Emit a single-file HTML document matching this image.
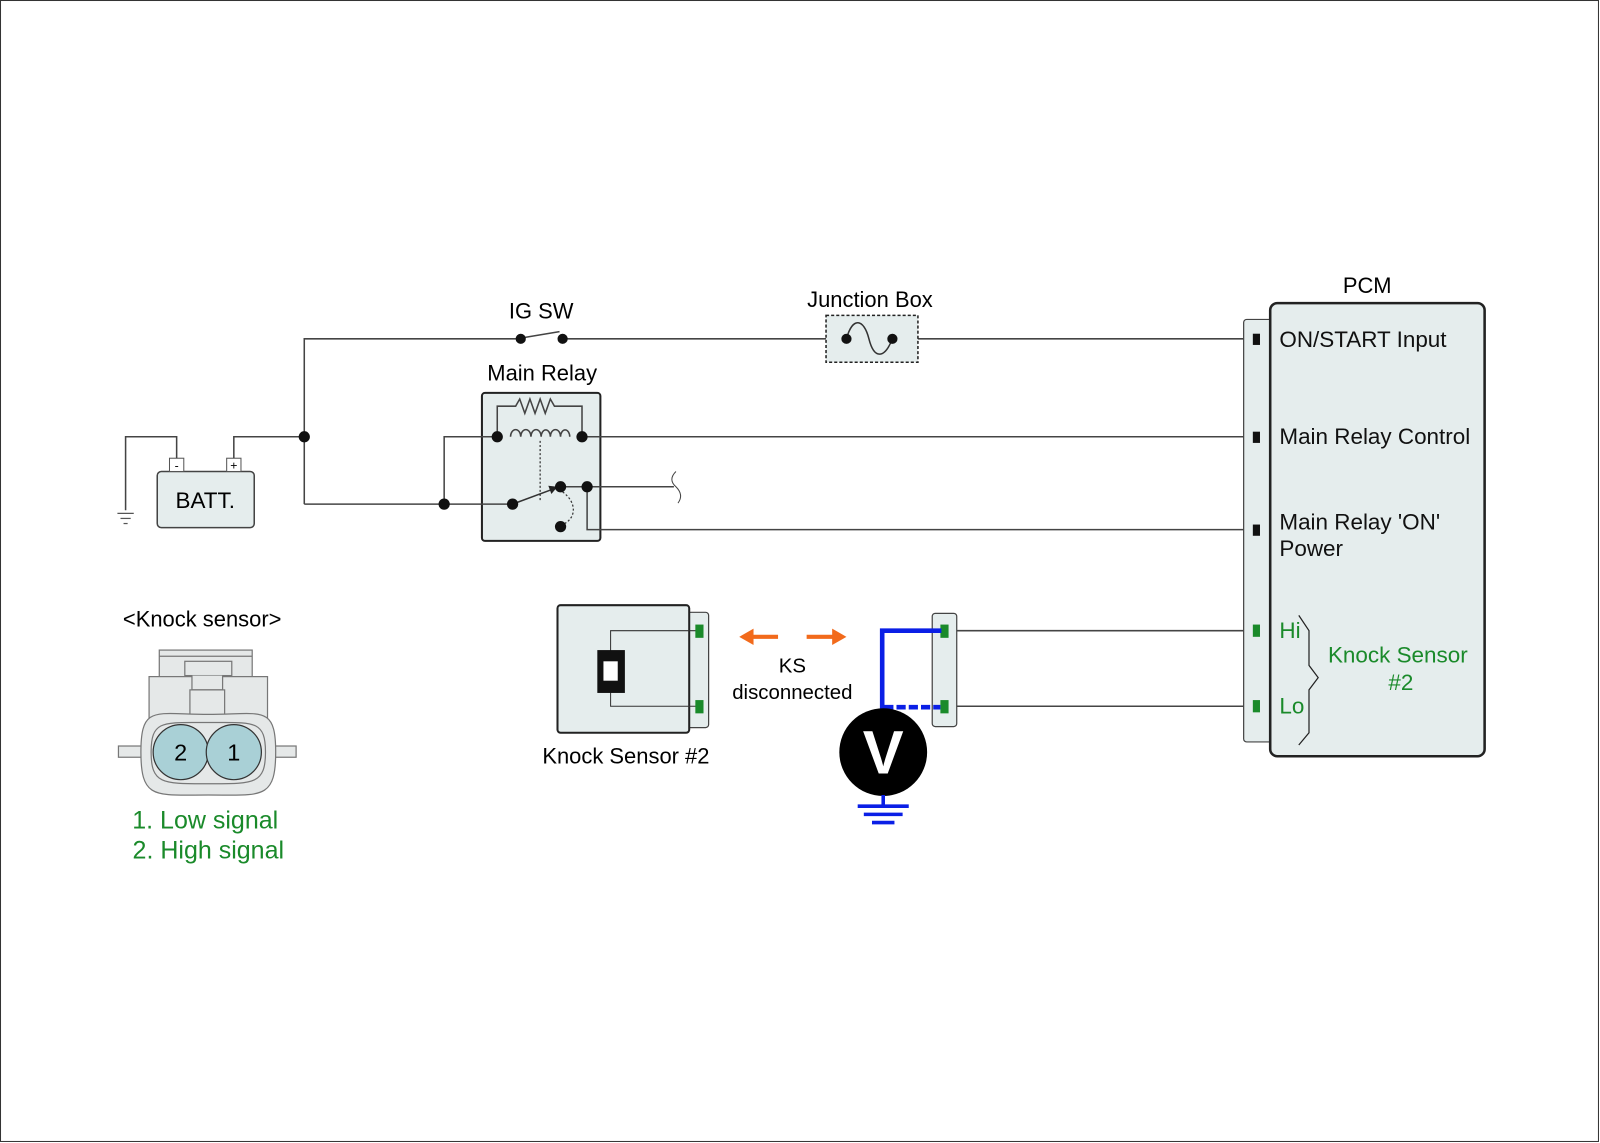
<!DOCTYPE html>
<html><head><meta charset="utf-8"><style>
html,body{margin:0;padding:0;background:#fff}
svg{display:block}
text{font-family:"Liberation Sans",Arial,sans-serif}
</style></head><body>
<svg width="1600" height="1143" viewBox="0 0 1567 1120" preserveAspectRatio="none" xmlns="http://www.w3.org/2000/svg">
<rect x="0.5" y="0.5" width="1565" height="1118" fill="#fff" stroke="#333" stroke-width="1"/>
<!-- battery -->
<rect x="154" y="462" width="95" height="55" rx="4" fill="#e5eded" stroke="#444" stroke-width="1.5"/>
<rect x="166" y="449" width="14" height="13" fill="#fff" stroke="#555"/>
<rect x="222" y="449" width="14" height="13" fill="#fff" stroke="#555"/>
<text x="173" y="460" font-size="12" text-anchor="middle">-</text>
<text x="229" y="460" font-size="12" text-anchor="middle">+</text>
<text x="201" y="498" font-size="22" text-anchor="middle">BATT.</text>
<!-- main relay box -->
<rect x="472" y="385" width="116" height="145" rx="3" fill="#e5eded" stroke="#222" stroke-width="2"/>
<g fill="none" stroke="#444" stroke-width="1.5">
<polyline points="298,494 298,332 510,332"/>
<line x1="512" y1="331" x2="548" y2="325"/>
<line x1="551" y1="332" x2="1230" y2="332"/>
<polyline points="173,449 173,428 123,428 123,500"/>
<polyline points="229,449 229,428 298,428"/>
<line x1="298" y1="494" x2="502" y2="494"/>
<polyline points="435,494 435,428 487,428"/>
<line x1="570" y1="428" x2="1230" y2="428"/>
<line x1="549" y1="477" x2="660" y2="477"/>
<polyline points="575,477 575,519 1230,519"/>
<line x1="925" y1="618" x2="1230" y2="618"/>
<line x1="925" y1="692" x2="1230" y2="692"/>
</g>
<g stroke="#555" stroke-width="1.2"><line x1="115" y1="503" x2="131" y2="503"/><line x1="118" y1="508" x2="128" y2="508"/><line x1="121" y1="513" x2="125" y2="513"/></g>
<path d="M662,462 q-8,8 0,15 q8,8 2,16" fill="none" stroke="#444" stroke-width="1"/>
<!-- junction box -->
<rect x="809" y="309" width="90" height="46" fill="#e5eded" stroke="#222" stroke-width="1.5" stroke-dasharray="3,2"/>
<rect x="812" y="318" width="84" height="28" fill="#e5eded"/>
<path d="M829,332 C835,310 846,312 851,332 C856,352 866,352 874,332" fill="none" stroke="#333" stroke-width="1.5"/>
<!-- relay internals -->
<polyline points="487,428 487,398 505,398 509,391 514,405 519,391 524,405 529,391 534,405 539,391 543,398 570,398 570,428" fill="none" stroke="#444" stroke-width="1.5"/>
<path d="M500,428 a5,7 0 0 1 10,0 a5,7 0 0 1 10,0 M520,428 a5,7 0 0 1 10,0 a4,6 0 0 1 9,0 a5,7 0 0 1 10,0 a4,6 0 0 1 9,0" fill="none" stroke="#444" stroke-width="1.5"/>
<line x1="529" y1="432" x2="529" y2="490" stroke="#333" stroke-width="1.2" stroke-dasharray="2,2"/>
<line x1="502" y1="494" x2="545" y2="478" stroke="#333" stroke-width="1.5"/>
<path d="M546,477 l-9,-1 l3,8 z" fill="#222"/>
<path d="M551,482 C565,492 565,508 551,514" fill="none" stroke="#333" stroke-width="1.2" stroke-dasharray="2,2"/>
<g fill="#111">
<circle cx="510" cy="332" r="5"/><circle cx="551" cy="332" r="5"/>
<circle cx="829" cy="332" r="5"/><circle cx="874" cy="332" r="5"/>
<circle cx="298" cy="428" r="5.5"/><circle cx="435" cy="494" r="5.5"/>
<circle cx="487" cy="428" r="5.5"/><circle cx="570" cy="428" r="5.5"/>
<circle cx="502" cy="494" r="5.5"/><circle cx="549" cy="477" r="5.5"/>
<circle cx="575" cy="477" r="5.5"/><circle cx="549" cy="516" r="5.5"/>
</g>
<text x="530" y="312" font-size="21.5" text-anchor="middle">IG SW</text>
<text x="852" y="301" font-size="21.5" text-anchor="middle">Junction Box</text>
<text x="531" y="373" font-size="21.5" text-anchor="middle">Main Relay</text>
<!-- PCM -->
<rect x="1218" y="313" width="30" height="414" rx="3" fill="#e5eded" stroke="#444" stroke-width="1.2"/>
<rect x="1244" y="297" width="210" height="444" rx="7" fill="#e5eded" stroke="#222" stroke-width="2.5"/>
<g fill="#111"><rect x="1227" y="327" width="7" height="11"/><rect x="1227" y="423" width="7" height="11"/><rect x="1227" y="514" width="7" height="11"/></g>
<g fill="#1a8a2a"><rect x="1227" y="612" width="7" height="12"/><rect x="1227" y="686" width="7" height="12"/></g>
<text x="1339" y="287" font-size="21.5" text-anchor="middle">PCM</text>
<g font-size="22" fill="#111">
<text x="1253" y="340">ON/START Input</text>
<text x="1253" y="435">Main Relay Control</text>
<text x="1253" y="519">Main Relay 'ON'</text>
<text x="1253" y="545">Power</text>
</g>
<g font-size="22" fill="#1a8a2a">
<text x="1253" y="625">Hi</text>
<text x="1253" y="699">Lo</text>
<text x="1369" y="649" text-anchor="middle">Knock Sensor</text>
<text x="1372" y="676" text-anchor="middle">#2</text>
</g>
<path d="M1272,603 L1282,618 L1282,652 L1291,664 L1282,676 L1282,718 L1272,730" fill="none" stroke="#222" stroke-width="1.2"/>
<!-- knock sensor #2 -->
<rect x="671" y="600" width="23" height="113" rx="3" fill="#e5eded" stroke="#444" stroke-width="1.2"/>
<rect x="546" y="593" width="129" height="125" rx="3" fill="#e5eded" stroke="#222" stroke-width="2"/>
<polyline points="685,618 598,618 598,640" fill="none" stroke="#333" stroke-width="1"/>
<polyline points="598,676 598,692 685,692" fill="none" stroke="#333" stroke-width="1"/>
<rect x="585" y="637" width="27" height="42" fill="#111"/>
<rect x="591" y="648" width="14" height="19" fill="#fff"/>
<g fill="#1a8a2a"><rect x="681" y="612" width="8" height="13"/><rect x="681" y="686" width="8" height="13"/></g>
<text x="613" y="748" font-size="21.5" text-anchor="middle">Knock Sensor #2</text>
<!-- arrows -->
<line x1="735" y1="624" x2="762" y2="624" stroke="#f26a1b" stroke-width="4"/>
<path d="M724,624 L738,616 L738,632 Z" fill="#f26a1b"/>
<line x1="790" y1="624" x2="818" y2="624" stroke="#f26a1b" stroke-width="4"/>
<path d="M829,624 L815,616 L815,632 Z" fill="#f26a1b"/>
<text x="776" y="659" font-size="20" text-anchor="middle">KS</text>
<text x="776" y="685" font-size="20" text-anchor="middle">disconnected</text>
<!-- right connector -->
<rect x="913" y="601" width="24" height="111" rx="3" fill="#e5eded" stroke="#444" stroke-width="1.2"/>
<g fill="#1a8a2a"><rect x="921" y="612" width="8" height="13"/><rect x="921" y="686" width="8" height="13"/></g>
<polyline points="922,618 864,618 864,700" fill="none" stroke="#0a1fe6" stroke-width="4.5"/>
<line x1="866" y1="693" x2="921" y2="693" stroke="#0a1fe6" stroke-width="4.5" stroke-dasharray="9,3"/>
<circle cx="865" cy="737" r="43" fill="#000"/>
<text x="865" y="758" font-size="60" font-weight="bold" fill="#fff" text-anchor="middle">V</text>
<g stroke="#0a1fe6" stroke-width="3.5"><line x1="865" y1="779" x2="865" y2="790"/><line x1="840" y1="790" x2="890" y2="790"/><line x1="846" y1="798" x2="884" y2="798"/><line x1="854" y1="806" x2="876" y2="806"/></g>
<!-- connector drawing -->
<text x="198" y="614" font-size="21.5" text-anchor="middle">&lt;Knock sensor&gt;</text>
<g stroke="#777" stroke-width="1.2" fill="#e5e8e8">
<rect x="156" y="637" width="91" height="30"/>
<line x1="156" y1="643" x2="247" y2="643"/>
<rect x="116" y="731" width="32" height="11"/>
<rect x="258" y="731" width="32" height="11"/>
<rect x="146" y="663" width="116" height="68"/>
<rect x="181" y="648" width="46" height="14"/>
<path d="M188,662 L188,676 L218,676 L218,662" />
<rect x="186" y="676" width="34" height="30"/>
<path d="M138,737 C138,690 152,700 204,700 C256,700 270,690 270,737 C270,784 256,779 204,779 C152,779 138,784 138,737 Z" fill="#e5e8e8"/>
<path d="M148,737 C148,705 160,708 204,708 C248,708 260,705 260,737 C260,769 248,768 204,768 C160,768 148,769 148,737 Z" fill="#e5e8e8"/>
</g>
<circle cx="177" cy="737" r="27" fill="#a9d0d6" stroke="#333" stroke-width="1.2"/>
<circle cx="229" cy="737" r="27" fill="#a9d0d6" stroke="#333" stroke-width="1.2"/>
<text x="177" y="745" font-size="23" text-anchor="middle">2</text>
<text x="229" y="745" font-size="23" text-anchor="middle">1</text>
<g font-size="24.5" fill="#1a8a2a" text-anchor="middle">
<text x="201" y="812">1. Low signal</text>
<text x="204" y="841">2. High signal</text>
</g>
</svg>
</body></html>
